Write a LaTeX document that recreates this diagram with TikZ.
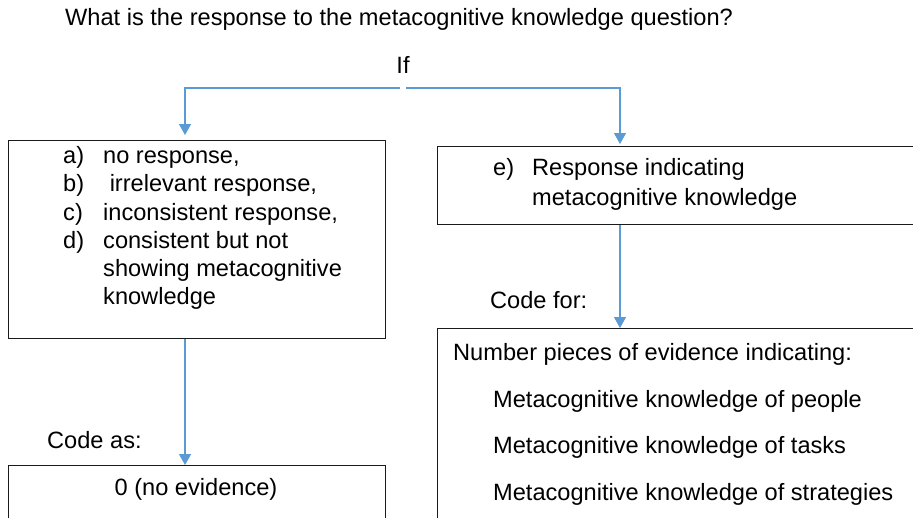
\documentclass[tikz,border=0pt]{standalone}
\usepackage{fontspec}
\setmainfont{Liberation Sans}
\usetikzlibrary{arrows.meta}
\definecolor{conncol}{HTML}{5B9BD5}
\definecolor{boxline}{HTML}{1A1A1A}
\tikzset{
  boxnode/.style={draw=boxline, line width=1.2pt, inner sep=0pt, anchor=north west},
  txt/.style={anchor=base west, inner sep=0pt, font=\fontsize{23.6}{28}\selectfont},
  ctxt/.style={anchor=base, inner sep=0pt, font=\fontsize{23.6}{28}\selectfont},
  conn/.style={draw=conncol, line width=1.3pt, -{Triangle[width=12pt,length=11pt]}},
  connline/.style={draw=conncol, line width=1.3pt}
}
\begin{document}
\begin{tikzpicture}[x=1pt,y=-1pt]
\useasboundingbox (0,0) rectangle (913,517);
\clip (0,0) rectangle (913,517);
% title
\node[txt] (title) at (65,25) {What is the response to the metacognitive knowledge question?};
\node[ctxt] (if) at (403,73) {If};
% boxes
\node[boxnode, minimum width=377pt, minimum height=198pt] (b1) at (8,140) {};
\node[boxnode, minimum width=490pt, minimum height=78pt] (b2) at (437,146) {};
\node[boxnode, minimum width=377pt, minimum height=80pt] (b3) at (8,465) {};
\node[boxnode, minimum width=490pt, minimum height=220pt] (b4) at (437,328) {};
% left box text
\node[txt] (la) at (63,163) {a)};
\node[txt] (lat) at (103,163) {no response,};
\node[txt] (lb) at (63,191) {b)};
\node[txt] (lbt) at (103,191) {\ irrelevant response,};
\node[txt] (lc) at (63,220) {c)};
\node[txt] (lct) at (103,220) {inconsistent response,};
\node[txt] (ld) at (63,248) {d)};
\node[txt] (ldt) at (103,248) {consistent but not};
\node[txt] (ld2) at (103,276) {showing metacognitive};
\node[txt] (ld3) at (103,304) {knowledge};
% right box text
\node[txt] (re) at (493,175) {e)};
\node[txt] (ret) at (532,175) {Response indicating};
\node[txt] (re2) at (532,205) {metacognitive knowledge};
% labels
\node[txt] (codeas) at (47,448) {Code as:};
\node[txt] (codefor) at (490,308) {Code for:};
% bottom boxes text
\node[ctxt] (zero) at (196,495) {0 (no evidence)};
\node[txt] (num) at (453,360) {Number pieces of evidence indicating:};
\node[txt] (mp) at (493,407) {Metacognitive knowledge of people};
\node[txt] (mt) at (493,453) {Metacognitive knowledge of tasks};
\node[txt] (ms) at (493,500) {Metacognitive knowledge of strategies};
% connectors
\coordinate (gapL) at (400,88);
\coordinate (gapR) at (406,88);
\coordinate (tipL) at (185,135);
\coordinate (tipR) at (620,144);
\draw[conn] (gapL) -| (tipL);
\draw[conn] (gapR) -| (tipR);
\draw[conn] (b1.south -| tipL) -- (b3.north -| tipL);
\draw[conn] (b2.south -| tipR) -- (b4.north -| tipR);
\end{tikzpicture}
\end{document}
